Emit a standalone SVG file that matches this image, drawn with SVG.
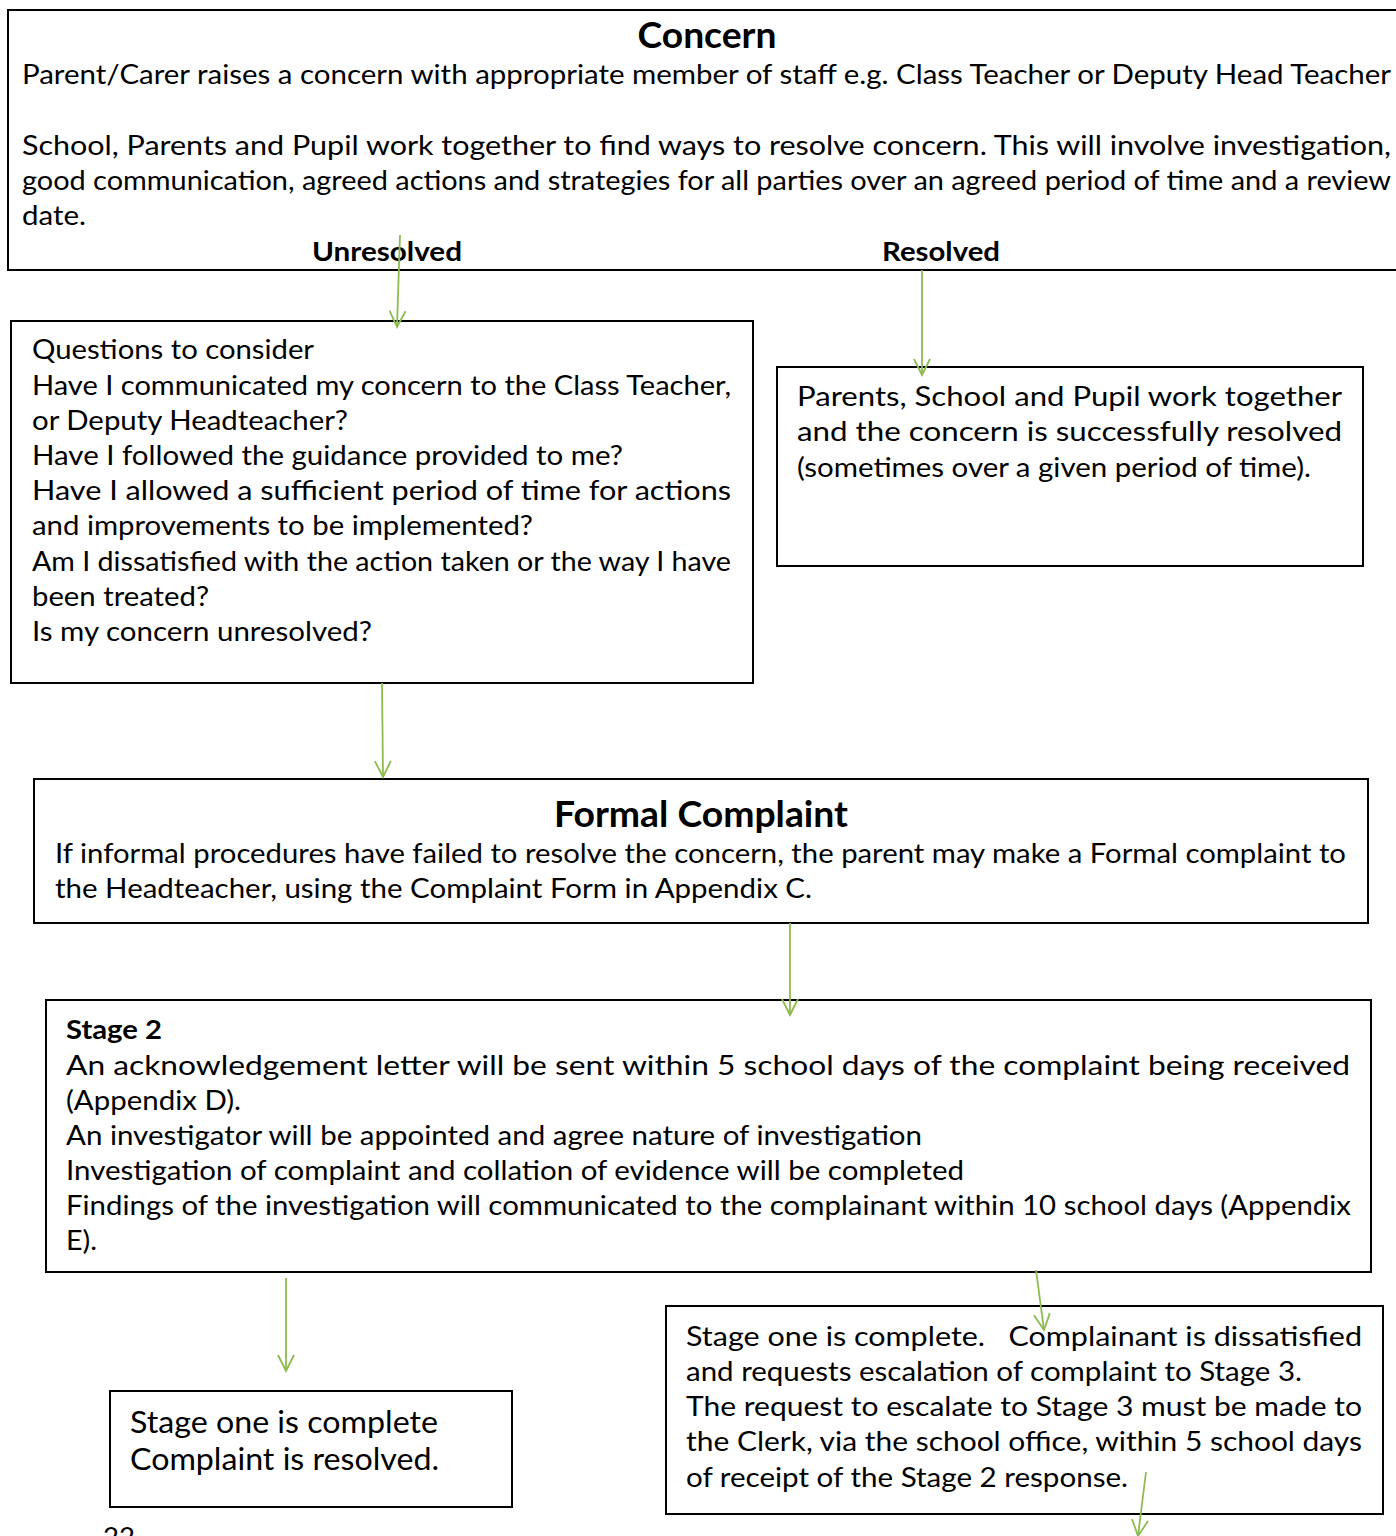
<svg xmlns="http://www.w3.org/2000/svg" width="1396" height="1536" viewBox="0 0 1396 1536">
<style>
.box{fill:#fff;stroke:#000;stroke-width:2}
.t{font-family:Lato,"Liberation Sans",sans-serif;font-size:27px;fill:#000}
.b{font-family:Lato,"Liberation Sans",sans-serif;font-weight:bold;fill:#000}
.big{font-size:30px}
.c{fill:none;stroke:#8cbb4f;stroke-width:1.8;marker-end:url(#ah)}
</style>
<defs>
<marker id="ah" viewBox="-18 -10 20 20" refX="0" refY="0" markerWidth="20" markerHeight="20" markerUnits="userSpaceOnUse" orient="auto">
<path d="M-16,-8 L0,0 L-16,8" fill="none" stroke="#8cbb4f" stroke-width="1.8"/>
</marker>
</defs>
<rect width="1396" height="1536" fill="#fff"/>

<g id="concern">
<rect class="box" x="8" y="10" width="1400" height="260"/>
<text class="b" x="707" y="48" font-size="36" text-anchor="middle" textLength="139" lengthAdjust="spacingAndGlyphs">Concern</text>
<text class="t" x="22" y="84" textLength="1369" lengthAdjust="spacingAndGlyphs">Parent/Carer raises a concern with appropriate member of staff e.g. Class Teacher or Deputy Head Teacher</text>
<text class="t" x="22" y="155" textLength="1369" lengthAdjust="spacingAndGlyphs">School, Parents and Pupil work together to find ways to resolve concern. This will involve investigation,</text>
<text class="t" x="22" y="190" textLength="1369" lengthAdjust="spacingAndGlyphs">good communication, agreed actions and strategies for all parties over an agreed period of time and a review</text>
<text class="t" x="22" y="225" textLength="64" lengthAdjust="spacingAndGlyphs">date.</text>
<text class="b" x="312" y="261" font-size="26" textLength="150" lengthAdjust="spacingAndGlyphs">Unresolved</text>
<text class="b" x="882" y="261" font-size="26" textLength="118" lengthAdjust="spacingAndGlyphs">Resolved</text>
</g>

<g id="questions">
<rect class="box" x="11" y="321" width="742" height="362"/>
<text class="t" x="32" y="359" textLength="282" lengthAdjust="spacingAndGlyphs">Questions to consider</text>
<text class="t" x="32" y="395" textLength="699" lengthAdjust="spacingAndGlyphs">Have I communicated my concern to the Class Teacher,</text>
<text class="t" x="32" y="430" textLength="316" lengthAdjust="spacingAndGlyphs">or Deputy Headteacher?</text>
<text class="t" x="32" y="465" textLength="591" lengthAdjust="spacingAndGlyphs">Have I followed the guidance provided to me?</text>
<text class="t" x="32" y="500" textLength="699" lengthAdjust="spacingAndGlyphs">Have I allowed a sufficient period of time for actions</text>
<text class="t" x="32" y="535" textLength="501" lengthAdjust="spacingAndGlyphs">and improvements to be implemented?</text>
<text class="t" x="32" y="571" textLength="699" lengthAdjust="spacingAndGlyphs">Am I dissatisfied with the action taken or the way I have</text>
<text class="t" x="32" y="606" textLength="177" lengthAdjust="spacingAndGlyphs">been treated?</text>
<text class="t" x="32" y="641" textLength="340" lengthAdjust="spacingAndGlyphs">Is my concern unresolved?</text>
</g>

<g id="resolved">
<rect class="box" x="777" y="367" width="586" height="199"/>
<text class="t" x="797" y="406" textLength="545" lengthAdjust="spacingAndGlyphs">Parents, School and Pupil work together</text>
<text class="t" x="797" y="441" textLength="545" lengthAdjust="spacingAndGlyphs">and the concern is successfully resolved</text>
<text class="t" x="797" y="477" textLength="514" lengthAdjust="spacingAndGlyphs">(sometimes over a given period of time).</text>
</g>

<g id="formal">
<rect class="box" x="34" y="779" width="1334" height="144"/>
<text class="b" x="554" y="827" font-size="36" textLength="294" lengthAdjust="spacingAndGlyphs">Formal Complaint</text>
<text class="t" x="55" y="863" textLength="1291" lengthAdjust="spacingAndGlyphs">If informal procedures have failed to resolve the concern, the parent may make a Formal complaint to</text>
<text class="t" x="55" y="898" textLength="757" lengthAdjust="spacingAndGlyphs">the Headteacher, using the Complaint Form in Appendix C.</text>
</g>

<g id="stage2">
<rect class="box" x="46" y="1000" width="1325" height="272"/>
<text class="b" x="66" y="1039" font-size="27" textLength="96" lengthAdjust="spacingAndGlyphs">Stage 2</text>
<text class="t" x="66" y="1075" textLength="1284" lengthAdjust="spacingAndGlyphs">An acknowledgement letter will be sent within 5 school days of the complaint being received</text>
<text class="t" x="66" y="1110" textLength="175" lengthAdjust="spacingAndGlyphs">(Appendix D).</text>
<text class="t" x="66" y="1145" textLength="856" lengthAdjust="spacingAndGlyphs">An investigator will be appointed and agree nature of investigation</text>
<text class="t" x="66" y="1180" textLength="898" lengthAdjust="spacingAndGlyphs">Investigation of complaint and collation of evidence will be completed</text>
<text class="t" x="66" y="1215" textLength="1285" lengthAdjust="spacingAndGlyphs">Findings of the investigation will communicated to the complainant within 10 school days (Appendix</text>
<text class="t" x="66" y="1250" textLength="31" lengthAdjust="spacingAndGlyphs">E).</text>
</g>

<g id="complete">
<rect class="box" x="110" y="1391" width="402" height="116"/>
<text class="t big" x="130" y="1433" textLength="308" lengthAdjust="spacingAndGlyphs">Stage one is complete</text>
<text class="t big" x="130" y="1470" textLength="309" lengthAdjust="spacingAndGlyphs">Complaint is resolved.</text>
</g>

<g id="escalate">
<rect class="box" x="666" y="1306" width="717" height="208"/>
<text class="t" x="686" y="1346" textLength="676" lengthAdjust="spacingAndGlyphs" xml:space="preserve">Stage one is complete.   Complainant is dissatisfied</text>
<text class="t" x="686" y="1381" textLength="616" lengthAdjust="spacingAndGlyphs">and requests escalation of complaint to Stage 3.</text>
<text class="t" x="686" y="1416" textLength="676" lengthAdjust="spacingAndGlyphs">The request to escalate to Stage 3 must be made to</text>
<text class="t" x="686" y="1451" textLength="676" lengthAdjust="spacingAndGlyphs">the Clerk, via the school office, within 5 school days</text>
<text class="t" x="686" y="1487" textLength="442" lengthAdjust="spacingAndGlyphs">of receipt of the Stage 2 response.</text>
</g>

<g id="pagenum">
<text class="t" x="103" y="1547" textLength="32" lengthAdjust="spacingAndGlyphs">22</text>
</g>

<g id="connectors">
<line class="c" x1="400" y1="235" x2="397" y2="327"/>
<line class="c" x1="922" y1="270" x2="922" y2="375"/>
<line class="c" x1="382" y1="683" x2="383" y2="777"/>
<line class="c" x1="790" y1="923" x2="790" y2="1015"/>
<line class="c" x1="286" y1="1278" x2="286" y2="1371"/>
<line class="c" x1="1036" y1="1270" x2="1044" y2="1330"/>
<line class="c" x1="1146" y1="1472" x2="1138" y2="1536"/>
</g>
</svg>
